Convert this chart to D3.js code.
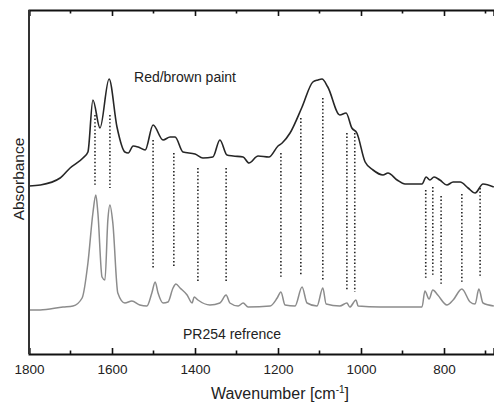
<!DOCTYPE html>
<html>
<head>
<meta charset="utf-8">
<script src="https://cdn.jsdelivr.net/npm/d3@7"></script>
<style>
  body { margin: 0; background: #fff; }
  text { font-family: "Liberation Sans", Arial, sans-serif; }
</style>
</head>
<body>
<div id="chart"></div>
<script>
// red/brown paint spectrum (wavenumber, absorbance a.u.)
var paintWn = [1800,1773,1725,1701,1670,1658,1646,1629,1607,1588,1569,1561,1549,1537,1520,1501,1477,1460,1448,1429,1400,1381,1357,1340,1323,1308,1284,1270,1248,1222,1200,1190,1171,1142,1116,1104,1094,1080,1051,1036,1022,1010,990,971,947,935,913,894,853,843,834,824,810,793,778,761,742,725,706,680]
var paintAbs = [1.68,1.69,1.76,1.86,1.96,2.02,2.54,2.26,2.75,2.27,2.02,2.01,2.08,2.07,2.04,2.29,2.14,2.17,2.17,2.02,2.00,1.96,1.97,2.14,1.99,1.98,1.97,1.91,1.98,1.97,2.08,2.11,2.21,2.47,2.72,2.74,2.75,2.67,2.39,2.41,2.26,2.21,1.92,1.84,1.79,1.81,1.74,1.70,1.70,1.77,1.74,1.77,1.74,1.69,1.72,1.72,1.66,1.61,1.70,1.67]

// PR254 reference spectrum
var refWn = [1800,1773,1718,1694,1672,1658,1646,1639,1634,1624,1617,1610,1605,1598,1586,1569,1552,1533,1516,1504,1496,1489,1477,1465,1453,1446,1436,1419,1407,1402,1393,1364,1340,1325,1316,1296,1284,1272,1219,1202,1193,1183,1159,1142,1130,1106,1092,1084,1051,1034,1027,1012,1007,954,853,846,836,827,815,793,778,757,737,725,716,706,680]
var refAbs = [0.44,0.44,0.47,0.48,0.56,0.91,1.41,1.59,1.41,0.77,0.74,1.34,1.49,1.31,0.61,0.51,0.53,0.49,0.48,0.61,0.72,0.61,0.51,0.52,0.66,0.70,0.66,0.59,0.51,0.57,0.54,0.49,0.51,0.59,0.51,0.48,0.51,0.47,0.48,0.56,0.62,0.49,0.48,0.67,0.51,0.48,0.66,0.50,0.48,0.51,0.47,0.54,0.48,0.47,0.47,0.63,0.55,0.64,0.59,0.49,0.54,0.65,0.52,0.50,0.65,0.51,0.48]

// dotted correlation lines
var markWn = [1641,1605,1501,1451,1393,1325,1193,1145,1092,1034,1015,844,827,807,757,713]
var markTop = [2.39,2.39,2.14,2.01,1.86,1.86,2.01,2.36,2.56,2.21,2.21,1.64,1.67,1.58,1.60,1.66]
var markBottom = [1.69,1.66,0.86,0.87,0.72,0.72,0.77,0.78,0.74,0.64,0.62,0.74,0.77,0.69,0.71,0.76]

var majorTicks = [1800,1600,1400,1200,1000,800]
var minorTicks = [1700,1500,1300,1100,900,700]

var width = 494, height = 403
var margin = {left: 29, top: 10, right: 0, bottom: 49}

var svg = d3.select("#chart").append("svg")
    .attr("width", width)
    .attr("height", height)

var x = d3.scaleLinear()
    .domain([1800, 680])
    .range([margin.left, margin.left + 1120 * 0.415])

var y = d3.scaleLinear()
    .domain([0, 3.44])
    .range([height - margin.bottom, margin.top])

var plot = svg.append("g")

var line = d3.line()
    .x(function(d) { return x(d[0]) })
    .y(function(d) { return y(d[1]) })
    .curve(d3.curveMonotoneX)

// dotted lines
markWn.forEach(function(w, i) {
    plot.append("line")
        .attr("x1", x(w)).attr("x2", x(w))
        .attr("y1", y(markTop[i])).attr("y2", y(markBottom[i]))
        .attr("stroke", "#222")
        .attr("stroke-width", 1.6)
        .attr("stroke-dasharray", "1.4,2.2")
})

plot.append("path")
    .datum(d3.zip(refWn, refAbs))
    .attr("d", line)
    .attr("fill", "none")
    .attr("stroke", "#8c8c8c")
    .attr("stroke-width", 1.5)

plot.append("path")
    .datum(d3.zip(paintWn, paintAbs))
    .attr("d", line)
    .attr("fill", "none")
    .attr("stroke", "#262626")
    .attr("stroke-width", 1.6)

// axes
var yb = height - margin.bottom
var xBottom = d3.axisBottom(x).tickValues(majorTicks).tickSize(-6).tickPadding(10).tickFormat(d3.format("d"))
var gx = svg.append("g").attr("transform", "translate(0," + yb + ")").call(xBottom)
gx.selectAll("text").attr("font-size", 13.5).attr("fill", "#222").style("font-family", "Liberation Sans, Arial, sans-serif")
gx.append("g").selectAll("line").data(minorTicks).enter().append("line")
    .attr("x1", x).attr("x2", x).attr("y1", 0).attr("y2", -3.5).attr("stroke", "#111").attr("stroke-width", 1.6)

var xTop = d3.axisTop(x).tickValues(majorTicks).tickSize(-6).tickFormat("")
var gt = svg.append("g").attr("transform", "translate(0," + margin.top + ")").call(xTop)
gt.append("g").selectAll("line").data(minorTicks).enter().append("line")
    .attr("x1", x).attr("x2", x).attr("y1", 0).attr("y2", 3.5).attr("stroke", "#111").attr("stroke-width", 1.6)

svg.selectAll(".domain").attr("stroke", "#111").attr("stroke-width", 2)
svg.selectAll(".tick line").attr("stroke", "#111").attr("stroke-width", 1.6)

svg.append("line")
    .attr("x1", margin.left).attr("x2", margin.left)
    .attr("y1", margin.top).attr("y2", yb)
    .attr("stroke", "#333").attr("stroke-width", 2)

// labels
svg.append("text")
    .attr("x", 280).attr("y", 399)
    .attr("text-anchor", "middle")
    .attr("font-size", 16).attr("fill", "#222")
    .text("Wavenumber [cm")
    .append("tspan").attr("dy", -6).attr("font-size", 10).text("-1")
    .select(function() { return this.parentNode })
    .append("tspan").attr("dy", 6).text("]")

svg.append("text")
    .attr("transform", "translate(24,179) rotate(-90)")
    .attr("text-anchor", "middle")
    .attr("font-size", 15.5).attr("fill", "#222")
    .text("Absorbance")

svg.append("text")
    .attr("x", 185).attr("y", 82)
    .attr("text-anchor", "middle")
    .attr("font-size", 14).attr("fill", "#222")
    .text("Red/brown paint")

svg.append("text")
    .attr("x", 232).attr("y", 339)
    .attr("text-anchor", "middle")
    .attr("font-size", 14).attr("fill", "#222")
    .text("PR254 refrence")
</script>
</body>
</html>
